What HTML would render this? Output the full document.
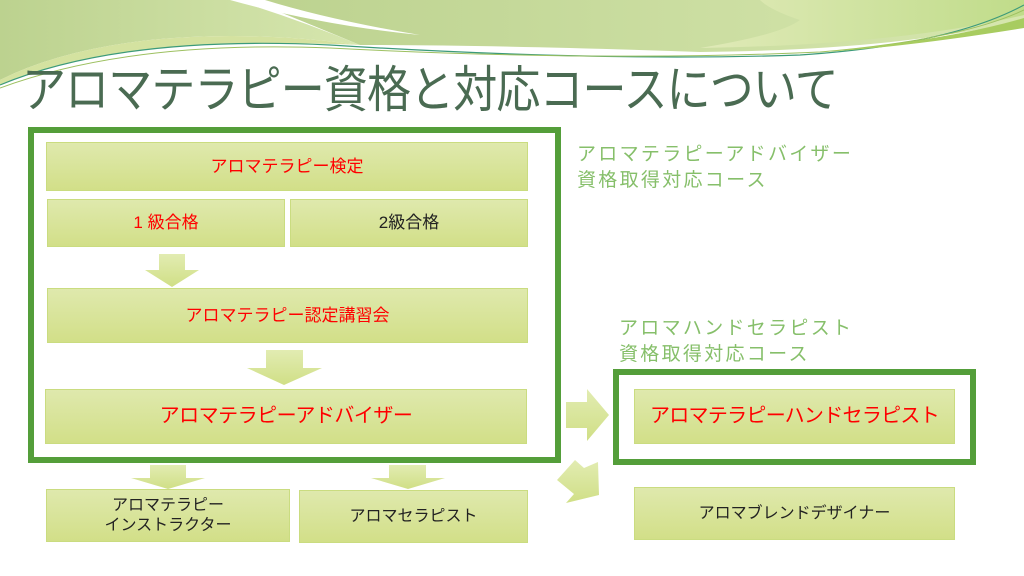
<!DOCTYPE html>
<html><head><meta charset="utf-8"><style>
body{margin:0;width:1024px;height:576px;overflow:hidden;background:#fff;position:relative;font-family:"Liberation Sans","Noto Sans CJK JP",sans-serif}
.b{position:absolute;box-sizing:border-box;background:linear-gradient(#dfe9ad,#d2df88);border:1px solid #cadc80;display:flex;align-items:center;justify-content:center;text-align:center;font-size:17px;color:#222;line-height:1.25;white-space:nowrap}
.r{color:#f00}
.f{position:absolute;box-sizing:border-box;border:6px solid #549e3a}
.t{position:absolute;color:#86bf6a;font-size:19px;letter-spacing:2.3px;line-height:26px;white-space:nowrap}
svg{position:absolute;left:0;top:0}
</style></head><body>
<svg width="1024" height="576">
<defs><linearGradient id="g1" x1="0" x2="1"><stop offset="0" stop-color="#bcd28f"/><stop offset="1" stop-color="#d6e6ae"/></linearGradient>
<linearGradient id="g2" x1="0" x2="1"><stop offset="0" stop-color="#e0eab8"/><stop offset="1" stop-color="#c0dc8a"/></linearGradient>
<linearGradient id="ar" x1="0" y1="0" x2="0" y2="1"><stop offset="0" stop-color="#e2ecb2"/><stop offset="1" stop-color="#d0df86"/></linearGradient></defs>
<path d="M0 0 H235 Q300 20 360 45 Q250 30 150 40 Q60 50 0 80 Z" fill="url(#g1)"/>
<path d="M0 80 Q60 50 150 40 Q250 30 360 45 Q300 42 200 45 Q80 52 0 85 Z" fill="#d4e2a0"/>
<path d="M250 0 H1024 V20 Q900 50 700 52 Q500 45 360 45 Q300 20 250 0 Z" fill="url(#g1)"/>
<path d="M230 0 Q320 25 420 35 Q330 20 265 0 Z" fill="#fff"/>
<path d="M760 0 H1024 V15 Q900 45 700 48 Q780 35 800 20 Q770 10 760 0Z" fill="url(#g2)"/>
<path d="M0 85 Q120 35 330 45 Q600 62 800 55 Q950 45 1024 5" fill="none" stroke="#3c9a7a" stroke-width="1.2"/>
<path d="M0 88 Q130 40 330 48 Q600 62 820 52 Q960 40 1024 10" fill="none" stroke="#9dc060" stroke-width="1"/>
<path d="M1024 18 Q950 40 820 52 Q900 48 1024 28Z" fill="#a8cc60"/>
<polygon points="159,254 185,254 185,270 199,270 172,287 145,270 159,270" fill="url(#ar)"/>
<polygon points="266,350 303,350 303,368 322,368 284,385 247,368 266,368" fill="url(#ar)"/>
<polygon points="150,465 186,465 186,478 205,478 168,489 131,478 150,478" fill="url(#ar)"/>
<polygon points="389,465 426,465 426,478 445,478 408,489 371,478 389,478" fill="url(#ar)"/>
<polygon points="566,402 587,402 587,389 609,415 587,441 587,428 566,428" fill="url(#ar)"/>
<polygon points="557,480 575,460 584,468 598,462 599,495 566,503 574,494" fill="url(#ar)"/>
</svg>
<div style="position:absolute;left:22px;top:58px;font-size:50px;color:#4a6b52;letter-spacing:-1px;white-space:nowrap;line-height:64px;transform:scaleX(0.88);transform-origin:0 0">アロマテラピー資格と対応コースについて</div>
<div class="f" style="left:28px;top:127px;width:533px;height:336px"></div>
<div class="b r" style="left:46px;top:142px;width:482px;height:49px">アロマテラピー検定</div>
<div class="b r" style="left:47px;top:199px;width:238px;height:48px">1 級合格</div>
<div class="b" style="left:290px;top:199px;width:238px;height:48px">2級合格</div>
<div class="b r" style="left:47px;top:288px;width:481px;height:55px">アロマテラピー認定講習会</div>
<div class="b r" style="left:45px;top:389px;width:482px;height:55px;font-size:20px;letter-spacing:-0.5px">アロマテラピーアドバイザー</div>
<div class="b" style="left:46px;top:489px;width:244px;height:53px;font-size:16px">アロマテラピー<br>インストラクター</div>
<div class="b" style="left:299px;top:490px;width:229px;height:53px;font-size:16px">アロマセラピスト</div>
<div class="t" style="left:577px;top:142px">アロマテラピーアドバイザー<br>資格取得対応コース</div>
<div class="t" style="left:619px;top:316px">アロマハンドセラピスト<br>資格取得対応コース</div>
<div class="f" style="left:613px;top:369px;width:363px;height:96px"></div>
<div class="b r" style="left:634px;top:389px;width:321px;height:55px;font-size:20px;letter-spacing:-0.7px">アロマテラピーハンドセラピスト</div>
<div class="b" style="left:634px;top:487px;width:321px;height:53px;font-size:16px">アロマブレンドデザイナー</div>
</body></html>
